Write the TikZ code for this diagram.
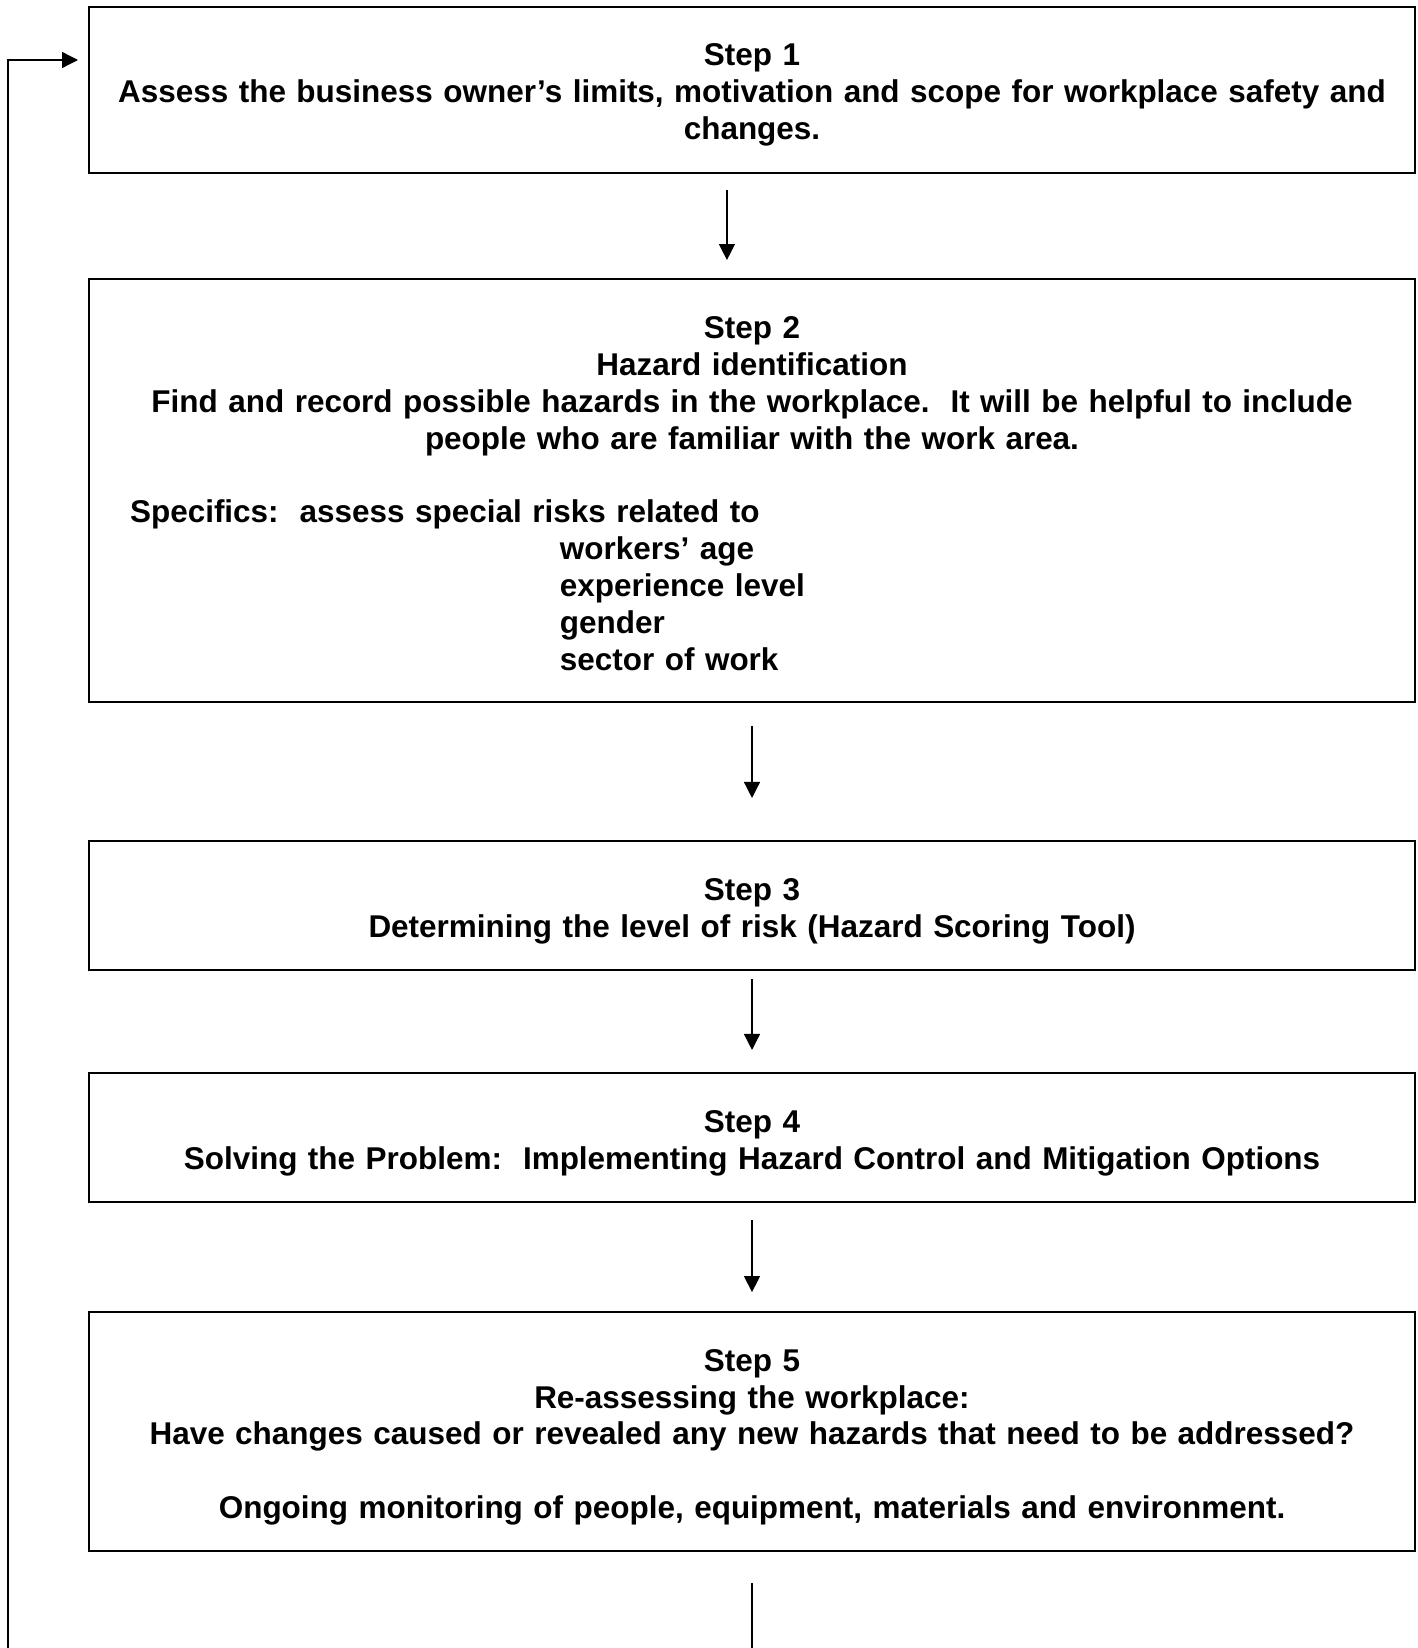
\documentclass[tikz,border=0pt]{standalone}
\usepackage{fontspec}
\setmainfont{Liberation Sans}
\usetikzlibrary{arrows.meta}
\newcommand{\topgap}[1]{\rule{0pt}{#1}}
\begin{document}
\begin{tikzpicture}[x=0.375pt,y=-0.375pt,
  stepbox/.style={draw,line width=0.75pt,rectangle,minimum width=497.25pt,text width=497.25pt,
    inner xsep=0pt,inner ysep=0pt,align=center,
    font=\fontsize{11.8pt}{13.8pt}\selectfont\bfseries},
  arr/.style={line width=0.5pt,-{Triangle[width=6pt,length=6pt]}}]
\useasboundingbox (0,0) rectangle (1418,1648);
\clip (0,0) rectangle (1418,1648);
\node[stepbox,minimum height=62.25pt] (b1) at (752,90)
 {\topgap{11.8pt}Step 1\\Assess the business owner’s limits, motivation and scope for workplace safety and\\changes.};
\node[stepbox,minimum height=158.6pt] (b2) at (752,490.5)
 {\topgap{10.6pt}Step 2\\Hazard identification\\Find and record possible hazards in the workplace.\ \ It will be helpful to include\\people who are familiar with the work area.\\[13.8pt]
 \makebox[497.25pt][l]{\hspace*{15.4pt}Specifics:\ \ assess special risks related to}\\
 \makebox[497.25pt][l]{\hspace*{176.6pt}workers’ age}\\
 \makebox[497.25pt][l]{\hspace*{176.6pt}experience level}\\
 \makebox[497.25pt][l]{\hspace*{176.6pt}gender}\\
 \makebox[497.25pt][l]{\hspace*{176.6pt}sector of work}};
\node[stepbox,minimum height=48.4pt] (b3) at (752,905.5)
 {\topgap{12.6pt}Step 3\\Determining the level of risk (Hazard Scoring Tool)};
\node[stepbox,minimum height=48.4pt] (b4) at (752,1137.5)
 {\topgap{12.6pt}Step 4\\Solving the Problem:\ \ Implementing Hazard Control and Mitigation Options};
\node[stepbox,minimum height=89.6pt] (b5) at (752,1431.5)
 {\topgap{12.6pt}Step 5\\Re-assessing the workplace:\\Have changes caused or revealed any new hazards that need to be addressed?\\[13.8pt]Ongoing monitoring of people, equipment, materials and environment.};
\draw[arr,shorten <=6pt,shorten >=6.75pt] ([xshift=-9.4pt]b1.south) -- ([xshift=-9.4pt]b2.north);
\draw[arr,shorten <=8.6pt,shorten >=15.75pt] (b2.south) -- (b3.north);
\draw[arr,shorten <=3pt,shorten >=8.25pt] (b3.south) -- (b4.north);
\draw[arr,shorten <=6.4pt,shorten >=7.1pt] (b4.south) -- (b5.north);
\coordinate (lb) at (8,1720);
\coordinate (lt) at (8,60);
\draw[arr,shorten <=11.6pt,shorten >=3.75pt] (b5.south) -- (b5.south |- lb) -- (lb) -- (lt) -- (b1.west |- lt);
\end{tikzpicture}
\end{document}
